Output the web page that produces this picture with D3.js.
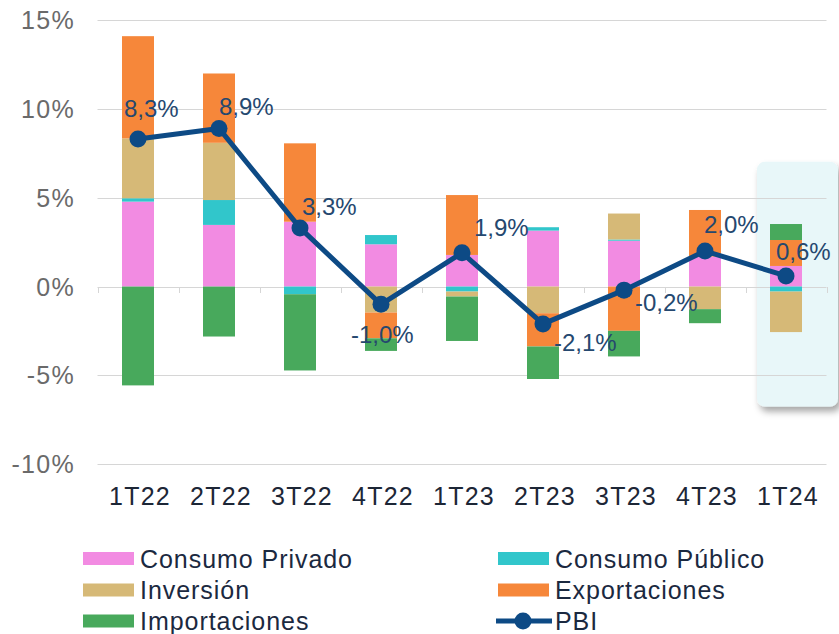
<!DOCTYPE html>
<html>
<head>
<meta charset="utf-8">
<script src="https://cdn.jsdelivr.net/npm/d3@7"></script>
<style>
  html, body { margin: 0; padding: 0; background: #ffffff; }
  svg { display: block; }
  text { font-family: "Liberation Sans", Arial, sans-serif; }
</style>
</head>
<body>
<svg id="chart" width="839" height="634"></svg>
<script>
// ---- DATA ----
const categories = ["1T22", "2T22", "3T22", "4T22", "1T23", "2T23", "3T23", "4T23", "1T24"];
const consumoPrivado = [4.78, 3.47, 3.65, 2.38, 1.78, 3.15, 2.58, 1.69, 1.16];
const consumoPublico = [0.19, 1.40, -0.43, 0.52, -0.28, 0.19, 0.07, 0.00, -0.28];
const inversion      = [3.37, 3.22, 0.00, -1.46, -0.28, -1.50, 1.46, -1.27, -2.28];
const exportaciones  = [5.75, 3.90, 4.41, -1.45, 3.37, -1.87, -2.49, 2.62, 1.46];
const importaciones  = [-5.56, -2.81, -4.29, -0.71, -2.50, -1.83, -1.44, -0.79, 0.90];
const pbi            = [8.3, 8.9, 3.3, -1.0, 1.9, -2.1, -0.2, 2.0, 0.6];
const pbiLabels      = ["8,3%", "8,9%", "3,3%", "-1,0%", "1,9%", "-2,1%", "-0,2%", "2,0%", "0,6%"];
const yTicks         = [-10, -5, 0, 5, 10, 15];
const yTickLabels    = ["-10%", "-5%", "0%", "5%", "10%", "15%"];
const seriesNames    = ["Consumo Privado", "Consumo Público", "Inversión", "Exportaciones", "Importaciones"];
const lineName       = "PBI";
const highlightCategory = "1T24";

// ---- STYLE / LAYOUT ----
const seriesColors = ["#f28be2", "#31c6cb", "#d6b977", "#f6873a", "#48a95c"];
const lineColor = "#0d4a85";
const labelColor = "#25486f";
// label offsets (pixels) relative to each PBI point: [dx to left edge, dy to baseline]
const labelDx = [-14, 0, 2, -30, 12, 11, 11, -1, -10];
const labelDy = [-22, -13, -13, 39, -17, 27, 21, -18, -16];

const svg = d3.select("#chart");

const x = d3.scaleBand()
  .domain(categories)
  .range([97.5, 826.5])
  .paddingInner(0.605)
  .paddingOuter(0.3025);

const y = d3.scaleLinear().domain([-10, 15]).range([464.3, 20]);

// table for stacking
const table = categories.map((c, i) => ({
  cat: c,
  [seriesNames[0]]: consumoPrivado[i],
  [seriesNames[1]]: consumoPublico[i],
  [seriesNames[2]]: inversion[i],
  [seriesNames[3]]: exportaciones[i],
  [seriesNames[4]]: importaciones[i]
}));

const stacked = d3.stack()
  .keys(seriesNames)
  .offset(d3.stackOffsetDiverging)(table);

// defs: shadow
const defs = svg.append("defs");
const f = defs.append("filter").attr("id", "shadow")
  .attr("x", "-20%").attr("y", "-10%").attr("width", "150%").attr("height", "130%");
f.append("feDropShadow").attr("dx", 3).attr("dy", 5).attr("stdDeviation", 3.5)
  .attr("flood-color", "#000").attr("flood-opacity", 0.35);

// highlight box
const hx = x(highlightCategory);
const boxTop = 7.03, boxBottom = -6.75;
svg.append("rect")
  .attr("x", hx - 13)
  .attr("y", y(boxTop))
  .attr("width", 81)
  .attr("height", y(boxBottom) - y(boxTop))
  .attr("rx", 8).attr("ry", 8)
  .attr("fill", "#e8f7f9")
  .attr("filter", "url(#shadow)");

// gridlines
svg.append("g").selectAll("line")
  .data(yTicks)
  .join("line")
  .attr("x1", x.range()[0]).attr("x2", x.range()[1])
  .attr("y1", d => Math.round(y(d)) + 0.5).attr("y2", d => Math.round(y(d)) + 0.5)
  .attr("stroke", "#d6d6d6").attr("stroke-width", 1);

// x axis ticks at band boundaries
const boundaries = categories.map(c => x(c) - (x.step() - x.bandwidth()) / 2).concat([x.range()[1]]);
svg.append("g").selectAll("line")
  .data(boundaries)
  .join("line")
  .attr("x1", d => Math.round(d) + 0.5).attr("x2", d => Math.round(d) + 0.5)
  .attr("y1", Math.round(y(0))).attr("y2", Math.round(y(0)) + 6)
  .attr("stroke", "#d6d6d6");

// y labels
svg.append("g").selectAll("text")
  .data(yTicks)
  .join("text")
  .attr("x", 75)
  .attr("y", d => y(d) + 9)
  .attr("text-anchor", "end")
  .attr("font-size", 25)
  .attr("letter-spacing", "1.3px")
  .attr("fill", "#6a6a6a")
  .text((d, i) => yTickLabels[i]);

// bars
svg.append("g").selectAll("g")
  .data(stacked)
  .join("g")
  .attr("fill", (d, i) => seriesColors[i])
  .selectAll("rect")
  .data(d => d)
  .join("rect")
  .attr("x", d => x(d.data.cat))
  .attr("width", x.bandwidth())
  .attr("y", d => y(Math.max(d[0], d[1])))
  .attr("height", d => Math.abs(y(d[0]) - y(d[1])));

// x labels
svg.append("g").selectAll("text")
  .data(categories)
  .join("text")
  .attr("x", d => x(d) + x.bandwidth() / 2 + 2)
  .attr("y", 505)
  .attr("text-anchor", "middle")
  .attr("font-size", 25)
  .attr("letter-spacing", "1.2px")
  .attr("fill", "#1c2636")
  .text(d => d);

// PBI line
const cx = c => x(c) + x.bandwidth() / 2;
svg.append("path")
  .datum(pbi)
  .attr("fill", "none")
  .attr("stroke", lineColor)
  .attr("stroke-width", 5)
  .attr("stroke-linejoin", "round")
  .attr("d", d3.line().x((d, i) => cx(categories[i])).y(d => y(d)));

svg.append("g").selectAll("circle")
  .data(pbi)
  .join("circle")
  .attr("cx", (d, i) => cx(categories[i]))
  .attr("cy", d => y(d))
  .attr("r", 8.5)
  .attr("fill", lineColor);

// PBI labels
svg.append("g").selectAll("text")
  .data(pbi)
  .join("text")
  .attr("x", (d, i) => cx(categories[i]) + labelDx[i])
  .attr("y", (d, i) => y(d) + labelDy[i])
  .attr("font-size", 24)
  .attr("fill", labelColor)
  .text((d, i) => pbiLabels[i]);

// legend
const legendItems = [
  { name: seriesNames[0], color: seriesColors[0], col: 0, row: 0 },
  { name: seriesNames[1], color: seriesColors[1], col: 1, row: 0 },
  { name: seriesNames[2], color: seriesColors[2], col: 0, row: 1 },
  { name: seriesNames[3], color: seriesColors[3], col: 1, row: 1 },
  { name: seriesNames[4], color: seriesColors[4], col: 0, row: 2 },
  { name: lineName, color: lineColor, col: 1, row: 2, line: true }
];
const colX = [83, 498];
const rowY = [558.5, 590, 621];
const lg = svg.append("g");
legendItems.forEach(it => {
  const gx = colX[it.col], gy = rowY[it.row];
  if (it.line) {
    lg.append("line").attr("x1", gx - 2).attr("x2", gx + 54)
      .attr("y1", gy).attr("y2", gy)
      .attr("stroke", it.color).attr("stroke-width", 5);
    lg.append("circle").attr("cx", gx + 25).attr("cy", gy).attr("r", 8.5).attr("fill", it.color);
  } else {
    lg.append("rect").attr("x", gx).attr("y", gy - 6.5)
      .attr("width", 51).attr("height", 13).attr("fill", it.color);
  }
  lg.append("text").attr("x", gx + 57).attr("y", gy + 9)
    .attr("font-size", 25).attr("letter-spacing", "0.95px")
    .attr("fill", "#1b2940").text(it.name);
});
</script>
</body>
</html>
